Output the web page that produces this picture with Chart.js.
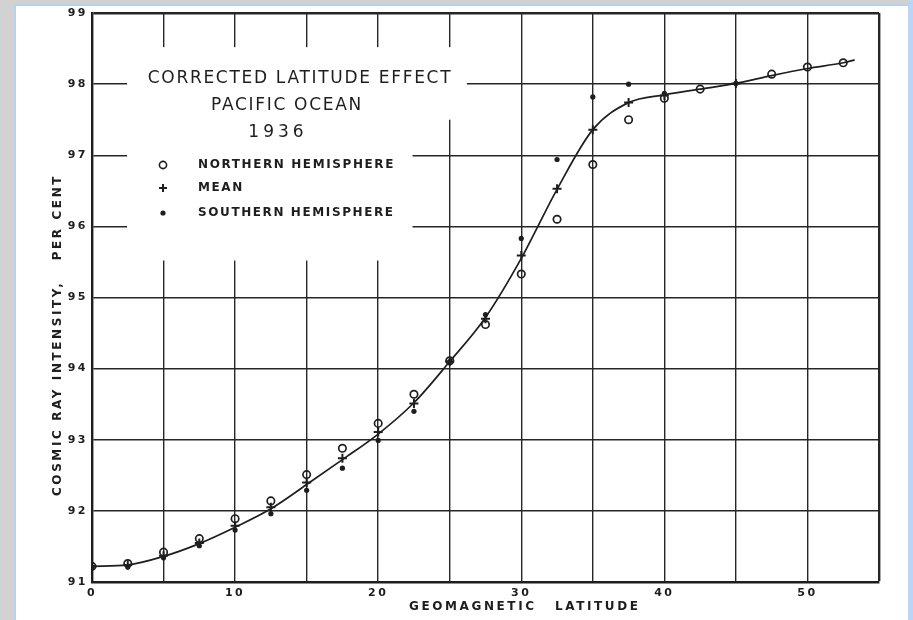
<!DOCTYPE html>
<html lang="en">

<head>
  <meta charset="UTF-8">
  <title>Corrected latitude effect, Pacific Ocean 1936</title>
  <script src="https://cdn.jsdelivr.net/npm/chart.js"></script>
  <style>
    body { margin: 0; background: #d2d2d2; width: 913px; height: 620px; overflow: hidden; position: relative; }
    #card { position: absolute; left: 14px; top: 4px; width: 893px; height: 616px; background: #fff;
            border-left: 2px solid #b6d1f2; border-top: 2px solid #b6d1f2; }
    #edge { position: absolute; right: 0; top: 0; width: 5px; height: 620px; background: #bcd5f5; }
    #wrap { position: absolute; left: 0; top: 0; width: 913px; height: 620px; }
  </style>
</head>

<body>
  <div id="card"></div>
  <div id="edge"></div>
  <div id="wrap"><canvas id="chart"></canvas></div>

  <script>
    // values (geomagnetic latitude, per cent)
    const curveLat = [0, 2.5, 5, 7.5, 10, 12.5, 15, 17.5, 20, 22.5, 25, 27.5, 30, 32.5, 35, 37.5, 40, 42.5, 45, 47.5, 50, 52.5, 53.3];
    const curveVal = [91.22, 91.24, 91.36, 91.54, 91.77, 92.03, 92.37, 92.72, 93.08, 93.52, 94.10, 94.72, 95.55, 96.52, 97.36, 97.74, 97.85, 97.93, 98.01, 98.12, 98.22, 98.30, 98.34];

    const northLat = [0, 2.5, 5, 7.5, 10, 12.5, 15, 17.5, 20, 22.5, 25, 27.5, 30, 32.5, 35, 37.5, 40, 42.5, 47.5, 50, 52.5];
    const northVal = [91.22, 91.26, 91.42, 91.61, 91.89, 92.14, 92.51, 92.88, 93.23, 93.64, 94.11, 94.62, 95.33, 96.10, 96.87, 97.50, 97.80, 97.93, 98.14, 98.24, 98.30];

    const meanLat = [0, 2.5, 5, 7.5, 10, 12.5, 15, 17.5, 20, 22.5, 25, 27.5, 30, 32.5, 35, 37.5, 40, 45];
    const meanVal = [91.22, 91.24, 91.37, 91.55, 91.79, 92.05, 92.40, 92.74, 93.11, 93.51, 94.10, 94.70, 95.59, 96.53, 97.36, 97.74, 97.84, 98.01];

    const southLat = [0, 2.5, 5, 7.5, 10, 12.5, 15, 17.5, 20, 22.5, 25, 27.5, 30, 32.5, 35, 37.5, 40, 45];
    const southVal = [91.21, 91.21, 91.34, 91.51, 91.73, 91.96, 92.29, 92.60, 92.99, 93.40, 94.10, 94.76, 95.83, 96.94, 97.82, 98.00, 97.87, 98.01];

    const titleLines = ['CORRECTED LATITUDE EFFECT', 'PACIFIC OCEAN', '1936'];
    const legendLabels = ['NORTHERN HEMISPHERE', 'MEAN', 'SOUTHERN HEMISPHERE'];
    const xTitle = ['GEOMAGNETIC', 'LATITUDE'];
    const yTitle = 'COSMIC RAY INTENSITY,   PER CENT';

    const pts = (xs, ys) => xs.map((x, i) => ({ x: x, y: ys[i] }));
    const INK = '#1e1e1e';
    const FONT = '"DejaVu Sans", sans-serif';

    function marker(ctx, kind, x, y) {
      ctx.save();
      ctx.strokeStyle = INK;
      ctx.fillStyle = INK;
      ctx.lineWidth = 1.6;
      ctx.beginPath();
      if (kind == 0) {
        ctx.arc(x, y, 3.6, 0, Math.PI * 2);
        ctx.stroke();
      } else if (kind == 1) {
        ctx.moveTo(x - 4, y); ctx.lineTo(x + 4, y);
        ctx.moveTo(x, y - 4); ctx.lineTo(x, y + 4);
        ctx.lineWidth = 2;
        ctx.stroke();
      } else {
        ctx.arc(x, y, 2.6, 0, Math.PI * 2);
        ctx.fill();
      }
      ctx.restore();
    }

    // blank box behind the printed legend, the grid is broken there
    const legendBox = {
      id: 'legendBox',
      beforeDraw(chart) {
        chart.ctx.letterSpacing = '2.5px';
      },
      beforeDatasetsDraw(chart) {
        const { ctx, scales: { x, y } } = chart;
        ctx.save();
        ctx.fillStyle = '#fff';
        ctx.fillRect(x.getPixelForValue(2.45), y.getPixelForValue(98.52), x.getPixelForValue(26.2) - x.getPixelForValue(2.45), y.getPixelForValue(97.50) - y.getPixelForValue(98.52));
        ctx.fillRect(x.getPixelForValue(2.45), y.getPixelForValue(97.55), x.getPixelForValue(22.4) - x.getPixelForValue(2.45), y.getPixelForValue(95.52) - y.getPixelForValue(97.55));
        ctx.restore();
      },
      afterDraw(chart) {
        const { ctx, chartArea: a } = chart;
        ctx.save();
        ctx.fillStyle = INK;
        ctx.textBaseline = 'middle';

        // title block
        ctx.textAlign = 'center';
        ctx.font = '17px ' + FONT;
        ctx.letterSpacing = '1.7px';
        ctx.fillText(titleLines[0], a.left + 208, 79);
        ctx.fillText(titleLines[1], a.left + 195, 106);
        ctx.letterSpacing = '4px';
        ctx.fillText(titleLines[2], a.left + 186, 133);

        // legend entries
        ctx.textAlign = 'left';
        ctx.font = 'bold 12px ' + FONT;
        ctx.letterSpacing = '1.6px';
        const rows = [165, 188, 213];
        legendLabels.forEach((t, i) => {
          marker(ctx, i, a.left + 71, rows[i]);
          ctx.fillText(t, a.left + 106, rows[i]);
        });

        // axis titles
        ctx.font = 'bold 12px ' + FONT;
        ctx.letterSpacing = '2.6px';
        ctx.textAlign = 'left';
        ctx.fillText(xTitle[0], 409, 607);
        ctx.fillText(xTitle[1], 555, 607);

        ctx.translate(58, 335);
        ctx.rotate(-Math.PI / 2);
        ctx.textAlign = 'center';
        ctx.fillText(yTitle, 0, 0);
        ctx.restore();
      }
    };

    const chart = new Chart(document.getElementById('chart').getContext('2d'), {
      type: 'scatter',
      data: {
        datasets: [
          {
            type: 'line', label: 'curve', data: pts(curveLat, curveVal),
            borderColor: INK, borderWidth: 1.7, pointRadius: 0, fill: false,
            cubicInterpolationMode: 'monotone',
          },
          {
            label: 'Mean', data: pts(meanLat, meanVal), pointStyle: 'cross',
            pointRadius: 4.5, borderColor: INK, borderWidth: 2,
          },
          {
            label: 'Northern Hemisphere', data: pts(northLat, northVal), pointStyle: 'circle',
            pointRadius: 3.7, borderColor: INK, backgroundColor: 'rgba(255,255,255,0)', borderWidth: 1.7,
          },
          {
            label: 'Southern Hemisphere', data: pts(southLat, southVal), pointStyle: 'circle',
            pointRadius: 2.6, borderColor: INK, backgroundColor: INK, borderWidth: 0,
          },
        ],
      },
      options: {
        responsive: true,
        maintainAspectRatio: false,
        animation: false,
        layout: { padding: { left: 0, top: 13, right: 34, bottom: 0 } },
        scales: {
          x: {
            type: 'linear', min: 0, max: 55,
            grid: { color: '#262626', lineWidth: (c) => (c.tick && c.tick.value == 55) ? 2.4 : 1.4, drawTicks: false },
            border: { color: INK, width: 2.4 },
            ticks: {
              stepSize: 5, autoSkip: false, maxRotation: 0, padding: 5, color: INK,
              font: { family: '"DejaVu Sans"', size: 11, weight: 'bold' },
              callback: (v) => (v % 10 == 0 && v < 55) ? String(v) : '',
            },
            afterFit: (s) => { s.height = 38; },
          },
          y: {
            min: 91, max: 99,
            grid: { color: '#262626', lineWidth: (c) => (c.tick && c.tick.value == 99) ? 2.4 : 1.4, drawTicks: false },
            border: { color: INK, width: 2.4 },
            ticks: {
              stepSize: 1, padding: 4, color: INK,
              font: { family: '"DejaVu Sans"', size: 11, weight: 'bold' },
            },
            afterFit: (s) => { s.width = 92; },
          },
        },
        plugins: {
          legend: { display: false },
          tooltip: { enabled: false },
        },
      },
      plugins: [legendBox],
    });
  </script>
</body>

</html>
